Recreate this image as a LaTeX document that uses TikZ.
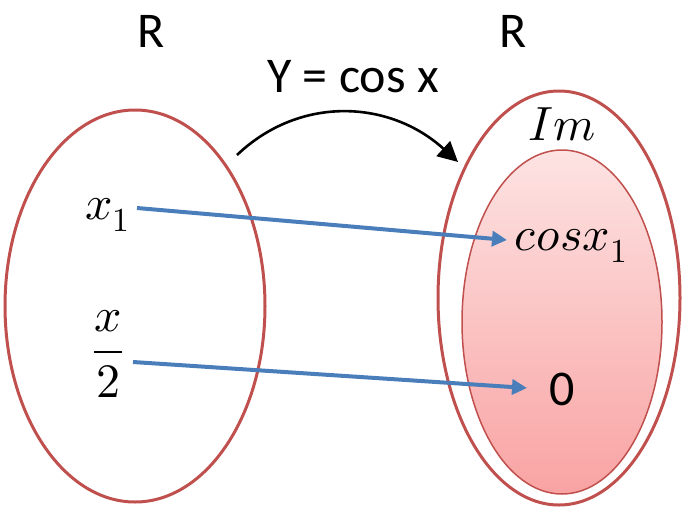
\documentclass[tikz,border=0pt]{standalone}
\usepackage{fontspec}
\usepackage{unicode-math}
\setmainfont{Carlito}
\setmathfont{Latin Modern Math}
\usetikzlibrary{arrows.meta,shapes.geometric}
\definecolor{setred}{HTML}{C0504D}
\definecolor{arrowblue}{HTML}{4A7EBB}
\definecolor{pinktop}{HTML}{FDE3E3}
\definecolor{pinkbot}{HTML}{F9A3A3}
\begin{document}
\begin{tikzpicture}[x=1pt,y=-1pt,
  setell/.style={ellipse,draw=setred,line width=3pt,inner sep=0pt},
  lbl/.style={inner sep=0pt,font=\fontsize{50}{56}\selectfont},
  mlbl/.style={inner sep=0pt,font=\fontsize{48}{54}\selectfont},
  maparrow/.style={draw=arrowblue,line width=4pt,-{Triangle[length=15pt,width=15pt]}},
  funarrow/.style={draw=black,line width=2.6pt,-{Triangle[length=20pt,width=20pt]}}]
\useasboundingbox (0,0) rectangle (685,514);
\node[setell,minimum width=260pt,minimum height=392pt] (dom) at (135,306) {};
\node[setell,minimum width=242pt,minimum height=414pt] (cod) at (559,298) {};
\node[setell,draw=setred,line width=1.5pt,top color=pinktop,bottom color=pinkbot,
      minimum width=200pt,minimum height=344pt] (img) at (562,322) {};
\node[lbl] (R1) at (151,31) {R};
\node[lbl] (R2) at (513,31) {R};
\node[lbl] (fun) at (353,77) {Y = cos x};
\node[mlbl] (Im) at (562,124) {$Im$};
\node[mlbl,anchor=east] (x1) at (130,215) {$x_1$};
\node[mlbl] (xh) at (108,354) {$\displaystyle\frac{x}{2}$};
\node[mlbl,anchor=west] (cx) at (514,246) {$cos x_1$};
\node[lbl] (zero) at (562,389) {0};
\coordinate (a1s) at (137,208);
\coordinate (a1e) at (507,240);
\coordinate (a2s) at (133,362);
\coordinate (a2e) at (527,388);
\coordinate (fs) at (237,155);
\coordinate (fe) at (458,162);
\draw[maparrow] (a1s) -- (a1e);
\draw[maparrow] (a2s) -- (a2e);
\draw[funarrow] (fs) .. controls (300,95) and (390,100) .. (fe);
\end{tikzpicture}
\end{document}
